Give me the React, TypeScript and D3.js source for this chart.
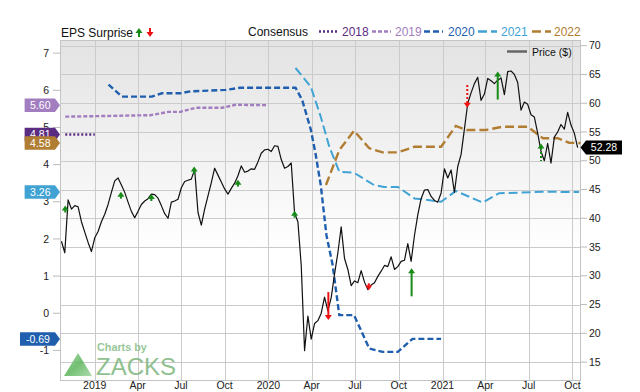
import React from 'react';
import * as d3 from 'd3';

const parse = d3.timeParse('%Y-%m-%d');

// Weekly closing prices starting on priceStart
const priceStart = '2018-10-23';
const priceWeekly = [
  36.0, 34.0, 43.2, 41.6, 42.2, 42.0, 39.4, 37.6, 35.8, 34.2,
  36.6, 37.7, 39.4, 40.7, 42.4, 44.5, 46.5, 47.0, 45.8, 44.5,
  42.8, 41.2, 40.1, 41.2, 42.4, 43.0, 43.4, 44.2, 44.1, 43.5,
  42.2, 40.8, 40.0, 42.8, 43.0, 43.3, 45.3, 46.4, 46.6, 46.8,
  48.5, 41.0, 38.8, 41.6, 43.9, 46.2, 48.7, 47.5, 46.3, 45.1,
  44.2, 45.2, 46.1, 47.4, 49.1, 48.0, 48.2, 48.6, 48.5, 49.8,
  51.3, 51.9, 52.0, 51.6, 52.6, 52.5, 50.2, 48.7, 49.0, 49.6,
  40.9, 39.4, 31.8, 17.0, 23.0, 19.0, 21.7, 22.2, 23.5, 26.3,
  23.9, 26.2, 30.3, 34.0, 38.5, 33.0, 31.1, 28.3, 29.1, 28.8,
  30.9, 28.9, 27.6, 28.4, 28.8, 29.9, 30.8, 31.8, 31.6, 33.3,
  31.1, 31.6, 32.5, 32.7, 35.6, 32.5, 37.0, 40.6, 43.4, 44.9,
  45.0, 43.8, 43.1, 42.8, 44.4, 48.6, 47.0, 48.4, 44.5, 49.0,
  51.1, 55.5, 60.0, 61.8, 63.4, 64.5, 60.5, 61.6, 64.3, 63.9,
  63.4, 64.0, 64.4, 61.5, 65.5, 65.6, 65.0, 63.6, 58.8, 60.2,
  59.8, 58.0, 57.6, 54.8, 51.6, 50.0, 53.0, 49.6, 54.1, 55.0,
  56.3, 55.5, 58.4, 56.2, 54.8, 52.28,
];

const consensus2018: [string, number][] = [
  ['2018-10-31', 4.81], ['2019-01-01', 4.81],
];
const consensus2019: [string, number][] = [
  ['2018-10-31', 5.29], ['2019-04-28', 5.33], ['2019-06-05', 5.42], ['2019-06-30', 5.42],
  ['2019-07-21', 5.49], ['2019-08-01', 5.53], ['2019-09-26', 5.53], ['2019-10-24', 5.61],
  ['2019-12-27', 5.60],
];
const consensus2020: [string, number][] = [
  ['2019-01-30', 6.15], ['2019-02-27', 5.83], ['2019-05-01', 5.83], ['2019-05-22', 5.92],
  ['2019-06-30', 5.92], ['2019-07-21', 5.97], ['2019-10-03', 6.01], ['2019-11-03', 6.07],
  ['2020-02-27', 6.07], ['2020-03-12', 5.74], ['2020-03-30', 4.95], ['2020-04-09', 4.30],
  ['2020-04-20', 3.45], ['2020-05-02', 2.10], ['2020-05-15', 1.30], ['2020-05-29', -0.05],
  ['2020-06-29', -0.05], ['2020-07-31', -0.95], ['2020-08-28', -1.04], ['2020-09-29', -1.04],
  ['2020-10-30', -0.69], ['2020-12-29', -0.69],
];
const consensus2021: [string, number][] = [
  ['2020-02-27', 6.60], ['2020-03-30', 6.10], ['2020-04-20', 5.29], ['2020-05-08', 4.48],
  ['2020-05-29', 3.81], ['2020-06-29', 3.78], ['2020-08-10', 3.45], ['2020-08-31', 3.40],
  ['2020-09-29', 3.40], ['2020-11-03', 3.09], ['2020-12-01', 3.05], ['2020-12-29', 3.00],
  ['2021-01-29', 3.29], ['2021-03-26', 2.98], ['2021-04-30', 3.23], ['2021-08-06', 3.27],
  ['2021-10-15', 3.26],
];
const consensus2022: [string, number][] = [
  ['2020-05-01', 3.45], ['2020-05-29', 4.39], ['2020-06-29', 4.91], ['2020-07-31', 4.44],
  ['2020-08-28', 4.33], ['2020-09-29', 4.33], ['2020-11-03', 4.48], ['2020-12-29', 4.48],
  ['2021-01-29', 5.04], ['2021-02-21', 4.93], ['2021-04-02', 4.93], ['2021-05-07', 5.02],
  ['2021-06-29', 5.02], ['2021-07-31', 4.71], ['2021-08-31', 4.71], ['2021-09-24', 4.59],
  ['2021-10-18', 4.58],
];

const seriesNames = ['2018', '2019', '2020', '2021', '2022'];
const seriesLast = ['4.81', '5.60', '-0.69', '3.26', '4.58'];

const surpriseDates = [
  '2018-10-31', '2019-02-25', '2019-04-30', '2019-07-29', '2019-10-29', '2020-02-25',
  '2020-05-06', '2020-07-30', '2020-10-28', '2021-02-22', '2021-04-27', '2021-07-27',
];
const surpriseAnchor = [42.2, 44.6, 44.2, 49.0, 46.7, 41.3, 22.3, 27.5, 31.3, 59.2, 65.5, 53.0];
const surprisePct = [1, 1, 1, 2, 1, 1, -25, -1, 25, -19, 25, 13];
const surpriseEstimated = [false, false, false, false, false, false, false, false, false, true, false, true];

const epsTicks = [-1, 0, 1, 2, 3, 4, 5, 6, 7];
const priceTicks = [15, 20, 25, 30, 35, 40, 45, 50, 55, 60, 65, 70];
const xTickDates = [
  '2019-01-01', '2019-04-01', '2019-07-01', '2019-10-01', '2020-01-01', '2020-04-01',
  '2020-07-01', '2020-10-01', '2021-01-01', '2021-04-01', '2021-07-01', '2021-10-01',
];
const lastPrice = '52.28';

const COLORS = ['#5b2d82', '#a27dc0', '#1f5fae', '#40a3d3', '#b07d32'];
const DASHES = ['2,2', '4,2', '6,3', '9,4', '9,4'];
const FONT = '"Liberation Sans", Arial, Helvetica, sans-serif';

const L = 60.5, R = 580.5, T = 40.5, B = 380.5;

function Arrow({ x, y, len, up, color, dashed }: any) {
  const hw = 3.5, hh = 5;
  if (up) {
    return (
      <g>
        <line x1={x} x2={x} y1={y + hh - 0.5} y2={y + len} stroke={color} strokeWidth={2}
          strokeDasharray={dashed ? '2,2' : undefined} />
        <path d={`M${x},${y} L${x + hw},${y + hh} L${x - hw},${y + hh} Z`} fill={color} />
      </g>
    );
  }
  return (
    <g>
      <line x1={x} x2={x} y1={y - len} y2={y - hh + 0.5} stroke={color} strokeWidth={2}
        strokeDasharray={dashed ? '2,2' : undefined} />
      <path d={`M${x},${y} L${x + hw},${y - hh} L${x - hw},${y - hh} Z`} fill={color} />
    </g>
  );
}

export default function App() {
  const x = d3.scaleTime()
    .domain([parse('2018-10-21')!, parse('2021-10-18')!])
    .range([L, R]);
  const yE = d3.scaleLinear().domain([-1.81, 7.34]).range([B, T]);
  const yP = d3.scaleLinear().domain([11.8, 70.9]).range([B, T]);
  const lenScale = d3.scaleLinear().domain([0, 25]).range([6, 28]);

  const start = parse(priceStart)!;
  const priceData = priceWeekly.map((v, i) => ({ d: d3.timeDay.offset(start, 7 * i), v }));
  const priceLine = d3.line<any>().x(p => x(p.d)).y(p => yP(p.v))(priceData) || '';

  const consLine = d3.line<[string, number]>()
    .x(p => x(parse(p[0])!))
    .y(p => yE(p[1]));
  const allCons = [consensus2018, consensus2019, consensus2020, consensus2021, consensus2022];

  const monthFmt = (d: Date) => (d.getMonth() === 0 ? d3.timeFormat('%Y')(d) : d3.timeFormat('%b')(d));

  const legendItems = [
    { lx: 319, tx: 342 },
    { lx: 372, tx: 395 },
    { lx: 424, tx: 448 },
    { lx: 478, tx: 501 },
    { lx: 532, tx: 554 },
  ];

  return (
    <svg width={640} height={392} style={{ position: 'absolute', left: 0, top: 0, fontFamily: FONT }}>
      <defs>
        <linearGradient id="bg" x1="0" y1="0" x2="0" y2="1">
          <stop offset="0" stopColor="#e3e3e3" />
          <stop offset="0.62" stopColor="#ffffff" />
          <stop offset="1" stopColor="#ffffff" />
        </linearGradient>
        <linearGradient id="tri" x1="0" y1="0" x2="1" y2="1">
          <stop offset="0" stopColor="#9fd99f" />
          <stop offset="0.5" stopColor="#5bb55b" />
          <stop offset="1" stopColor="#9fd49f" />
        </linearGradient>
      </defs>
      <rect x={0} y={0} width={640} height={392} fill="#fff" />
      <rect x={L} y={T} width={R - L} height={B - T} fill="url(#bg)" />

      {/* grid */}
      {priceTicks.map(t => (
        <line key={'h' + t} x1={L} x2={R} y1={Math.round(yP(t)) + 0.5} y2={Math.round(yP(t)) + 0.5}
          stroke="#cbcbcb" strokeWidth={1} />
      ))}
      {xTickDates.map(s => {
        const xx = Math.round(x(parse(s)!)) + 0.5;
        return <line key={'v' + s} x1={xx} x2={xx} y1={T} y2={B} stroke="#cbcbcb" strokeWidth={1} />;
      })}
      <rect x={L} y={T} width={R - L} height={B - T} fill="none" stroke="#c4c4c4" strokeWidth={1} />

      {/* logo */}
      <g opacity={0.85}>
        <path d="M64,376 L92,376 L78,353 Z" fill="url(#tri)" />
        <text x={97} y={351} fontSize={10.8} fontWeight={700} fill="#86bd86">Charts by</text>
        <text x={96} y={375} fontSize={24} fill="#7db67d">ZACKS</text>
      </g>

      {/* left axis */}
      {epsTicks.map(t => (
        <g key={'e' + t}>
          <line x1={53} x2={L} y1={yE(t)} y2={yE(t)} stroke="#bbb" />
          <text x={49} y={yE(t) + 3.6} fontSize={10.5} textAnchor="end" fill="#222">{t}</text>
        </g>
      ))}
      {/* right axis */}
      {priceTicks.map(t => (
        <g key={'p' + t}>
          <line x1={R} x2={587} y1={yP(t)} y2={yP(t)} stroke="#bbb" />
          <text x={589} y={yP(t) + 3.6} fontSize={10.5} fill="#222">{t}</text>
        </g>
      ))}
      {/* bottom axis */}
      {xTickDates.map(s => (
        <text key={'x' + s} x={x(parse(s)!)} y={389} fontSize={10.5} textAnchor="middle" fill="#222">
          {monthFmt(parse(s)!)}
        </text>
      ))}

      {/* consensus lines */}
      {allCons.map((c, i) => (
        <path key={'c' + i} d={consLine(c) || ''} fill="none" stroke={COLORS[i]}
          strokeWidth={i === 3 ? 2 : 2.4} strokeDasharray={DASHES[i]} />
      ))}

      {/* price */}
      <path d={priceLine} fill="none" stroke="#111" strokeWidth={1.2} strokeLinejoin="round" />

      {/* surprises */}
      {surpriseDates.map((s, i) => {
        const up = surprisePct[i] > 0;
        return (
          <Arrow key={'a' + i} x={x(parse(s)!)} y={yP(surpriseAnchor[i])}
            len={lenScale(Math.abs(surprisePct[i]))} up={up}
            color={up ? '#178a17' : '#ee1111'} dashed={surpriseEstimated[i]} />
        );
      })}

      {/* left badges */}
      {allCons.map((c, i) => {
        const y = yE(c[c.length - 1][1]);
        const label = seriesLast[i];
        const w = 12 + 4.6 * label.length;
        const x1 = 55, x0 = x1 - w, h = 13.5;
        return (
          <g key={'b' + i}>
            <path d={`M${x0},${y - h / 2} L${x1},${y - h / 2} L${x1 + 5},${y} L${x1},${y + h / 2} L${x0},${y + h / 2} Z`}
              fill={COLORS[i]} />
            <text x={(x0 + x1) / 2 + 0.5} y={y + 3.7} fontSize={10.5} textAnchor="middle" fill="#fff">{label}</text>
          </g>
        );
      })}

      {/* right badge */}
      {(() => {
        const y = yP(priceWeekly[priceWeekly.length - 1]);
        const h = 14;
        return (
          <g>
            <path d={`M${R},${y} L${586},${y - h / 2} L${622},${y - h / 2} L${622},${y + h / 2} L${586},${y + h / 2} Z`}
              fill="#000" />
            <text x={604} y={y + 3.7} fontSize={10.5} textAnchor="middle" fill="#fff">{lastPrice}</text>
          </g>
        );
      })()}

      {/* header legend */}
      <text x={61} y={37} fontSize={12} fill="#111">EPS Surprise</text>
      <Arrow x={139} y={28} len={9} up={true} color="#178a17" dashed={false} />
      <Arrow x={150} y={37} len={9} up={false} color="#ee1111" dashed={false} />
      <text x={248} y={36} fontSize={12} fill="#111">Consensus</text>
      {legendItems.map((it, i) => (
        <g key={'l' + i}>
          <line x1={it.lx} x2={it.lx + 19} y1={31.5} y2={31.5} stroke={COLORS[i]} strokeWidth={2.4}
            strokeDasharray={DASHES[i]} />
          <text x={it.tx} y={36} fontSize={12} fill={COLORS[i]}>{seriesNames[i]}</text>
        </g>
      ))}
      <line x1={507} x2={527} y1={51.5} y2={51.5} stroke="#666" strokeWidth={2.5} />
      <text x={532} y={55.5} fontSize={10.5} fill="#111">Price ($)</text>
    </svg>
  );
}
